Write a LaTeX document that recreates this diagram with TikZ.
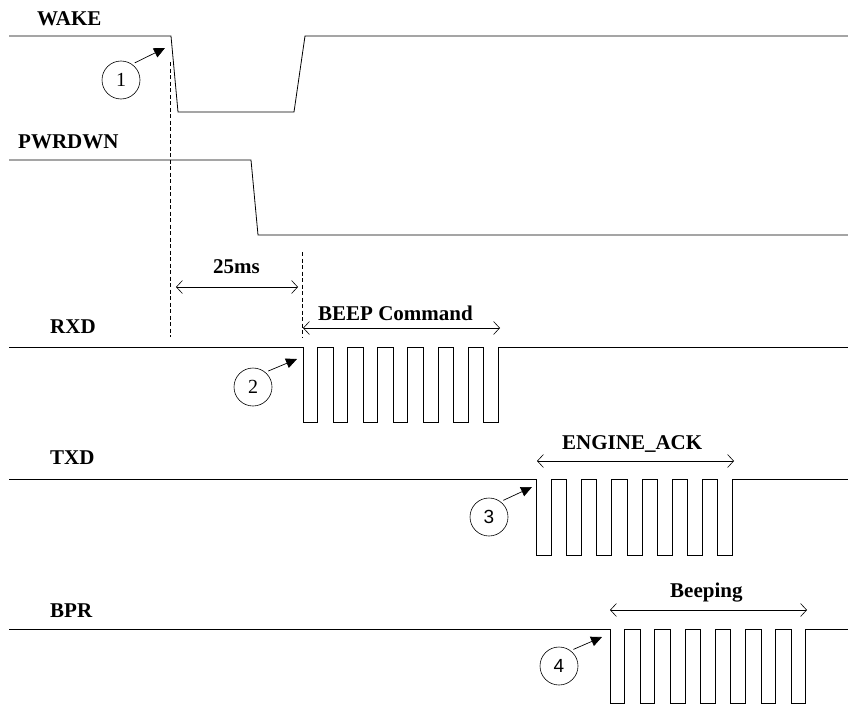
\documentclass[tikz,border=0pt]{standalone}
\usepackage{fontspec}
\setmainfont{Liberation Serif}
\newfontfamily\numsans{Liberation Sans}
\usetikzlibrary{arrows.meta,positioning}

\begin{document}
\begin{tikzpicture}[
    x=1pt, y=-1pt,
    signal/.style={line width=0.8pt, line join=miter},
    guide/.style={line width=0.6pt, dash pattern=on 4pt off 2.5pt},
    dimarrow/.style={
        {Straight Barb[length=6pt,width=13pt]}-{Straight Barb[length=6pt,width=13pt]},
        line width=0.6pt
    },
    siglabel/.style={
        anchor=base west,
        inner sep=0pt,
        font=\fontsize{21}{24}\selectfont\bfseries
    },
    num/.style={
        circle,
        draw,
        line width=0.6pt,
        minimum size=38pt,
        inner sep=0pt,
        font=\fontsize{20}{22}\selectfont
    },
    pointer/.style={-{Triangle[length=11pt,width=10pt]}, line width=0.7pt, shorten <=3pt}
]
\useasboundingbox (0,0) rectangle (848,704);

% Nombres de las senales
\node[siglabel] (wake) at (37,25) {WAKE};
\node[siglabel] (pwrdwn) at (18,148) {PWRDWN};
\node[siglabel] (rxd) at (50,333) {RXD};
\node[siglabel] (txd) at (50,464) {TXD};
\node[siglabel] (bpr) at (50,617) {BPR};

% Formas de onda
\draw[signal] (9,36) -- (171,36) -- (178,112) -- (294,112) -- (305,36) -- (848,36);
\draw[signal] (9,160) -- (251,160) -- (258,235) -- (848,235);
\draw[signal] (9,347)
    foreach \i in {0,...,6} {
        -- (303+30.1*\i,347) -- (303+30.1*\i,422)
        -- (317.5+30.1*\i,422) -- (317.5+30.1*\i,347)
    } -- (848,347);
\draw[signal] (9,479)
    foreach \i in {0,...,6} {
        -- (536+30.3*\i,479) -- (536+30.3*\i,555)
        -- (551+30.3*\i,555) -- (551+30.3*\i,479)
    } -- (848,479);
\draw[signal] (9,629)
    foreach \i in {0,...,6} {
        -- (610+30.2*\i,629) -- (610+30.2*\i,703)
        -- (624.5+30.2*\i,703) -- (624.5+30.2*\i,629)
    } -- (848,629);

% Lineas de referencia
\coordinate (g1top) at (170,62);
\coordinate (g1bot) at (170,337);
\coordinate (g2top) at (302,252);
\coordinate (g2bot) at (302,338);
\draw[guide] (g1top) -- (g1bot);
\draw[guide] (g2top) -- (g2bot);

% Intervalos
\coordinate (d1a) at (176,287);
\coordinate (d1b) at (298,287);
\draw[dimarrow] (d1a) -- (d1b);
\node[siglabel] (delay) at (213,273) {25ms};

\coordinate (d2a) at (303,328);
\coordinate (d2b) at (500,328);
\draw[dimarrow] (d2a) -- (d2b);
\node[siglabel] (beepcmd) at (318,320) {BEEP Command};

\coordinate (d3a) at (537,461);
\coordinate (d3b) at (734,461);
\draw[dimarrow] (d3a) -- (d3b);
\node[siglabel] (engack) at (562,449) {ENGINE\_ACK};

\coordinate (d4a) at (610,610);
\coordinate (d4b) at (807,610);
\draw[dimarrow] (d4a) -- (d4b);
\node[siglabel] (beeping) at (670,597) {Beeping};

% Pasos numerados
\node[num] (n1) at (121,80) {1};
\node[num] (n2) at (253,387) {2};
\node[num, font=\fontsize{19}{21}\selectfont\numsans] (n3) at (489,517) {3};
\node[num, font=\fontsize{19}{21}\selectfont\numsans] (n4) at (559,666) {4};

\coordinate (t1) at (165,48);
\coordinate (t2) at (297,359);
\coordinate (t3) at (532,487);
\coordinate (t4) at (602,637);
\draw[pointer] (n1.55) -- (t1);
\draw[pointer] (n2.50) -- (t2);
\draw[pointer] (n3.53) -- (t3);
\draw[pointer] (n4.53) -- (t4);

\end{tikzpicture}
\end{document}
